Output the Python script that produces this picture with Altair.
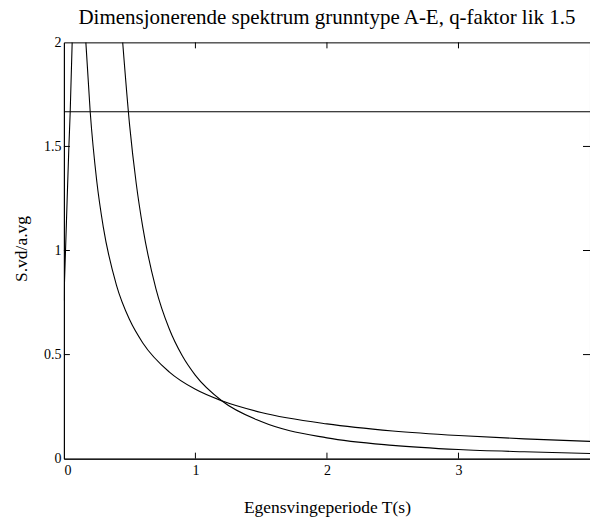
import altair as alt
import pandas as pd

# ---- data ----
T_plateau = [0.0, 4.0]
S_plateau = [1.667, 1.667]

T_rise = [0.0, 0.018, 0.038, 0.048, 0.063]
S_rise = [0.76, 1.11, 1.50, 1.667, 2.0]

T_c = [0.167, 0.2, 0.25, 0.3, 0.4, 0.5, 0.6, 0.8, 1.0, 1.2, 1.5, 2.0, 2.5, 3.0, 3.5, 4.0]
S_c = [2.0, 1.667, 1.333, 1.111, 0.833, 0.667, 0.556, 0.417, 0.333, 0.278, 0.222, 0.167, 0.133, 0.111, 0.095, 0.083]

T_d = [0.447, 0.5, 0.55, 0.6, 0.7, 0.8, 0.9, 1.0, 1.2, 1.5, 2.0, 2.5, 3.0, 3.5, 4.0]
S_d = [2.0, 1.6, 1.322, 1.111, 0.816, 0.625, 0.494, 0.4, 0.278, 0.178, 0.1, 0.064, 0.044, 0.033, 0.025]

x_ticks = [1, 2, 3]
y_ticks = [0.5, 1.0, 1.5]
x_labels = [0, 1, 2, 3]
y_labels = [0, 0.5, 1, 1.5, 2]

title_text = "Dimensjonerende spektrum grunntype A-E, q-faktor lik 1.5"
x_title = "Egensvingeperiode T(s)"
y_title = "S.vd/a.vg"

rows = []
for name, ts, ss in [("plateau", T_plateau, S_plateau), ("rise", T_rise, S_rise),
                     ("c", T_c, S_c), ("d", T_d, S_d)]:
    for i, (t, s) in enumerate(zip(ts, ss)):
        rows.append({"serie": name, "T": t, "S": s, "i": i})
df = pd.DataFrame(rows)

FONT = "Liberation Serif"
W, H = 527, 417

xscale = alt.Scale(domain=[0, 4], nice=False, zero=False)
yscale = alt.Scale(domain=[0, 2], nice=False, zero=False)

lines = alt.Chart(df).mark_line(color="black", strokeWidth=1.1, clip=True,
                                interpolate="monotone").encode(
    x=alt.X("T:Q", scale=xscale,
            axis=alt.Axis(values=x_labels, format="d", title=x_title, ticks=False,
                          grid=False, domainColor="black", labelColor="black",
                          labelFont=FONT, labelFontSize=14, labelPadding=5,
                          titleFont=FONT, titleFontSize=17.5, titleFontWeight="normal",
                          titleColor="black", titleBaseline="alphabetic", titleY=54)),
    y=alt.Y("S:Q", scale=yscale,
            axis=alt.Axis(values=y_labels, format="~g", title=y_title, ticks=False,
                          grid=False, domainColor="black", labelColor="black",
                          labelFont=FONT, labelFontSize=14, labelPadding=3,
                          titleFont=FONT, titleFontSize=17.5, titleFontWeight="normal",
                          titleColor="black", titleX=-42, titleY=H / 2 - 2,
                          titleBaseline="middle", titleAngle=-90)),
    detail="serie:N",
    order="i:Q",
)

dfx = pd.DataFrame({"T": x_ticks})
dfy = pd.DataFrame({"S": y_ticks})

bottom_ticks = alt.Chart(dfx).mark_rule(color="black", strokeWidth=1).encode(
    x=alt.X("T:Q", scale=xscale), y=alt.value(H), y2=alt.value(H - 6))
top_ticks = alt.Chart(dfx).mark_rule(color="black", strokeWidth=1).encode(
    x=alt.X("T:Q", scale=xscale), y=alt.value(0), y2=alt.value(6))
left_ticks = alt.Chart(dfy).mark_rule(color="black", strokeWidth=1).encode(
    y=alt.Y("S:Q", scale=yscale), x=alt.value(0), x2=alt.value(6))
right_ticks = alt.Chart(dfy).mark_rule(color="black", strokeWidth=1).encode(
    y=alt.Y("S:Q", scale=yscale), x=alt.value(W - 7), x2=alt.value(W))

chart = alt.layer(lines, bottom_ticks, top_ticks, left_ticks, right_ticks).properties(
    width=W, height=H,
    title=alt.TitleParams(text=title_text, font=FONT, fontSize=21, fontWeight="normal",
                          color="black", anchor="middle", offset=7),
    padding={"left": 64, "top": 42, "right": 0, "bottom": 59},
    autosize=alt.AutoSizeParams(type="none"),
    background="white",
).configure_view(stroke="black", strokeWidth=1)

chart.save("out.html", embed_options={"renderer": "svg", "actions": False})
